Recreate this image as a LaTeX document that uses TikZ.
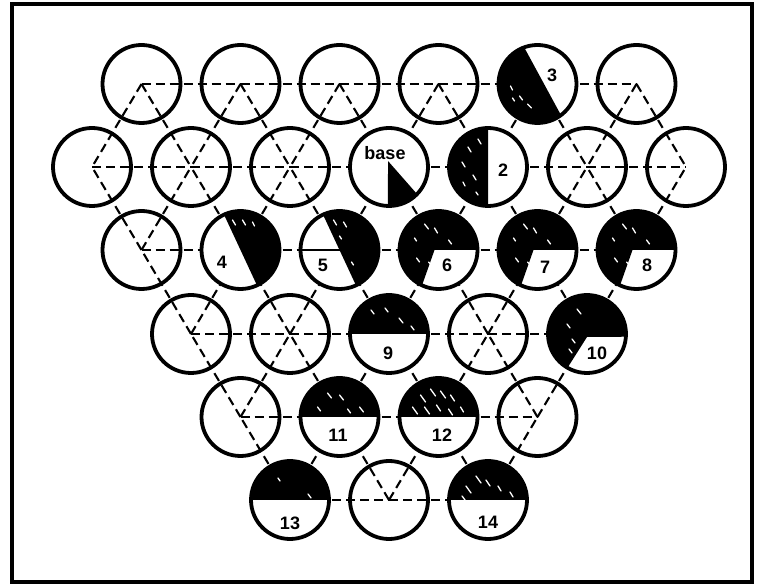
\documentclass[tikz,border=0pt]{standalone}
\usepackage{fontspec}
\setsansfont{Liberation Sans}
\usetikzlibrary{calc}
\begin{document}
\begin{tikzpicture}[x=1pt,y=1pt,
  lat/.style={line width=2.1pt, dash pattern=on 9pt off 5pt},
  ring/.style={circle, draw, line width=3.8pt, minimum size=78pt, inner sep=0pt},
  lbl/.style={font=\sffamily\bfseries\fontsize{18}{18}\selectfont, inner sep=0pt},
  streak/.style={white, line width=1.3pt, line cap=round},
  blk/.style={fill=black}]
\useasboundingbox (0,0) rectangle (757,586);
\draw[line width=3.5pt] (12,4) rectangle (752,582);
% lattice coordinates
\foreach \c in {1,3,...,11} \coordinate (p1-\c) at ({92+49.5*\c},502);
\foreach \c in {0,2,...,12} \coordinate (p2-\c) at ({92+49.5*\c},419);
\foreach \c in {1,3,...,11} \coordinate (p3-\c) at ({92+49.5*\c},336);
\foreach \c in {2,4,...,10} \coordinate (p4-\c) at ({92+49.5*\c},252);
\foreach \c in {3,5,7,9} \coordinate (p5-\c) at ({92+49.5*\c},169);
\foreach \c in {4,6,8} \coordinate (p6-\c) at ({92+49.5*\c},86);
% horizontal lattice lines
\foreach \r/\l in {1/{1,3,5,7,9},2/{0,2,4,6,8,10},3/{1,3,5,7,9},4/{2,4,6,8},5/{3,5,7},6/{4,6}}{
  \foreach \c in \l {\pgfmathtruncatemacro\b{\c+2}\draw[lat] (p\r-\c) -- (p\r-\b);}}
% diagonal lattice lines
\foreach \c in {1,3,...,11}{\pgfmathtruncatemacro\a{\c-1}\pgfmathtruncatemacro\b{\c+1}
  \draw[lat] (p1-\c) -- (p2-\a); \draw[lat] (p1-\c) -- (p2-\b);
  \draw[lat] (p3-\c) -- (p2-\a); \draw[lat] (p3-\c) -- (p2-\b);}
\foreach \c in {2,4,...,10}{\pgfmathtruncatemacro\a{\c-1}\pgfmathtruncatemacro\b{\c+1}
  \draw[lat] (p4-\c) -- (p3-\a); \draw[lat] (p4-\c) -- (p3-\b);}
\foreach \c in {3,5,7,9}{\pgfmathtruncatemacro\a{\c-1}\pgfmathtruncatemacro\b{\c+1}
  \draw[lat] (p5-\c) -- (p4-\a); \draw[lat] (p5-\c) -- (p4-\b);}
\foreach \c in {4,6,8}{\pgfmathtruncatemacro\a{\c-1}\pgfmathtruncatemacro\b{\c+1}
  \draw[lat] (p6-\c) -- (p5-\a); \draw[lat] (p6-\c) -- (p5-\b);}
% white disks for marked circles
\foreach \p in {p2-6,p2-8,p1-9,p3-3,p3-5,p3-7,p3-9,p3-11,p4-6,p4-10,p5-5,p5-7,p6-4,p6-8}
  \fill[white] (\p) circle[radius=39pt];
% base
\begin{scope}[shift={(p2-6)}]
  \fill[blk] (-1,6) -- (-91.5:39) arc[start angle=-91.5,end angle=-44,radius=39pt] -- cycle;
\end{scope}
% 2
\begin{scope}[shift={(p2-8)}]
  \fill[blk] (90:39) arc[start angle=90,end angle=270,radius=39pt] -- cycle;
  \draw[streak] (-20,20) -- ++(3,-5); \draw[streak] (-26,5) -- ++(3,-5);
  \draw[streak] (-15,-8) -- ++(3,-5); \draw[streak] (-25,-15) -- ++(2,-4);
  \draw[streak] (-10,28) -- ++(3,-5); \draw[streak] (-12,-25) -- ++(2,-3);
\end{scope}
% 3
\begin{scope}[shift={(p1-9)}]
  \fill[blk] (110:39) arc[start angle=110,end angle=307,radius=39pt] -- cycle;
  \draw[streak] (-27,-2) -- ++(2,-4); \draw[streak] (-18,-12) -- ++(3,-4);
  \draw[streak] (-10,-20) -- ++(4,-4); \draw[streak] (-25,-14) -- ++(2,-3);
\end{scope}
% 4
\begin{scope}[shift={(p3-3)}]
  \fill[blk] (-65:39) arc[start angle=-65,end angle=115,radius=39pt] -- cycle;
  \draw[streak] (-8,30) -- ++(3,-5); \draw[streak] (2,30) -- ++(3,-5); \draw[streak] (12,28) -- ++(2,-4);
\end{scope}
% 5
\begin{scope}[shift={(p3-5)}]
  \fill[blk] (-65:39) arc[start angle=-65,end angle=115,radius=39pt] -- cycle;
  \draw[line width=2.8pt] (180:39) -- (0,0);
  \draw[streak] (-6,30) -- ++(3,-5); \draw[streak] (4,28) -- ++(3,-5);
  \draw[streak] (0,14) -- ++(2,-3); \draw[streak] (12,-12) -- ++(2,-3);
\end{scope}
% 6, 7, 8
\foreach \p in {p3-7,p3-9,p3-11}{
\begin{scope}[shift={(\p)}]
  \fill[blk] (-4,0) -- (0:39) arc[start angle=0,end angle=245,radius=39pt] -- cycle;
  \draw[streak] (-14,26) -- ++(4,-5); \draw[streak] (-4,22) -- ++(3,-5);
  \draw[streak] (10,10) -- ++(3,-4); \draw[streak] (-22,-8) -- ++(3,-4);
  \draw[streak] (-24,12) -- ++(2,-3); \draw[streak] (-10,-12) -- ++(4,-4);
\end{scope}}
% 10
\begin{scope}[shift={(p4-10)}]
  \fill[blk] (0,-3) -- (-4:39) arc[start angle=-4,end angle=240,radius=39pt] -- cycle;
  \draw[streak] (-10,25) -- ++(4,-5); \draw[streak] (-20,10) -- ++(3,-4);
  \draw[streak] (-15,-5) -- ++(3,-4); \draw[streak] (-18,-15) -- ++(3,-4);
\end{scope}
% 9, 11, 12, 13, 14 (upper half black)
\foreach \p in {p4-6,p5-5,p5-7,p6-4,p6-8}{
\begin{scope}[shift={(\p)}]
  \fill[blk] (0:39) arc[start angle=0,end angle=180,radius=39pt] -- cycle;
\end{scope}}
\begin{scope}[shift={(p4-6)}]
  \draw[streak] (-18,24) -- ++(3,-4); \draw[streak] (-4,26) -- ++(3,-4);
  \draw[streak] (10,16) -- ++(4,-5); \draw[streak] (22,8) -- ++(3,-4);
\end{scope}
\begin{scope}[shift={(p5-5)}]
  \draw[streak] (-12,24) -- ++(4,-5); \draw[streak] (0,22) -- ++(4,-5);
  \draw[streak] (-22,10) -- ++(3,-4); \draw[streak] (20,10) -- ++(4,-5);
  \draw[streak] (8,8) -- ++(3,-4);
\end{scope}
\begin{scope}[shift={(p5-7)}]
  \draw[streak] (-18,22) -- ++(5,-7); \draw[streak] (-8,28) -- ++(5,-7);
  \draw[streak] (2,26) -- ++(5,-7); \draw[streak] (12,22) -- ++(4,-6);
  \draw[streak] (-26,10) -- ++(5,-7); \draw[streak] (-14,10) -- ++(5,-7);
  \draw[streak] (-2,12) -- ++(4,-6); \draw[streak] (10,8) -- ++(4,-6);
  \draw[streak] (22,10) -- ++(3,-5);
\end{scope}
\begin{scope}[shift={(p6-4)}]
  \draw[streak] (-12,22) -- ++(2,-3); \draw[streak] (18,6) -- ++(3,-4);
\end{scope}
\begin{scope}[shift={(p6-8)}]
  \draw[streak] (-22,14) -- ++(5,-7); \draw[streak] (-12,24) -- ++(5,-7);
  \draw[streak] (-26,4) -- ++(3,-4); \draw[streak] (-2,20) -- ++(4,-6);
  \draw[streak] (10,14) -- ++(3,-5); \draw[streak] (22,8) -- ++(3,-5);
\end{scope}
% circle outlines
\foreach \c in {1,3,...,11} \node[ring] (c1-\c) at (p1-\c) {};
\foreach \c in {0,2,...,12} \node[ring] (c2-\c) at (p2-\c) {};
\foreach \c in {1,3,...,11} \node[ring] (c3-\c) at (p3-\c) {};
\foreach \c in {2,4,...,10} \node[ring] (c4-\c) at (p4-\c) {};
\foreach \c in {3,5,7,9} \node[ring] (c5-\c) at (p5-\c) {};
\foreach \c in {4,6,8} \node[ring] (c6-\c) at (p6-\c) {};
% labels
\node[lbl] (tbase) at (385,433) {base};
\node[lbl] (t2) at (503,416) {2};
\node[lbl] (t3) at (552,511) {3};
\node[lbl] (t4) at (222,324) {4};
\node[lbl] (t5) at (323,321) {5};
\node[lbl] (t6) at (447,321) {6};
\node[lbl] (t7) at (545,319) {7};
\node[lbl] (t8) at (647,321) {8};
\node[lbl] (t9) at (388,233) {9};
\node[lbl] (t10) at (597,233) {10};
\node[lbl] (t11) at (338,151) {11};
\node[lbl] (t12) at (442,151) {12};
\node[lbl] (t13) at (290,63) {13};
\node[lbl] (t14) at (488,64) {14};
\end{tikzpicture}
\end{document}
